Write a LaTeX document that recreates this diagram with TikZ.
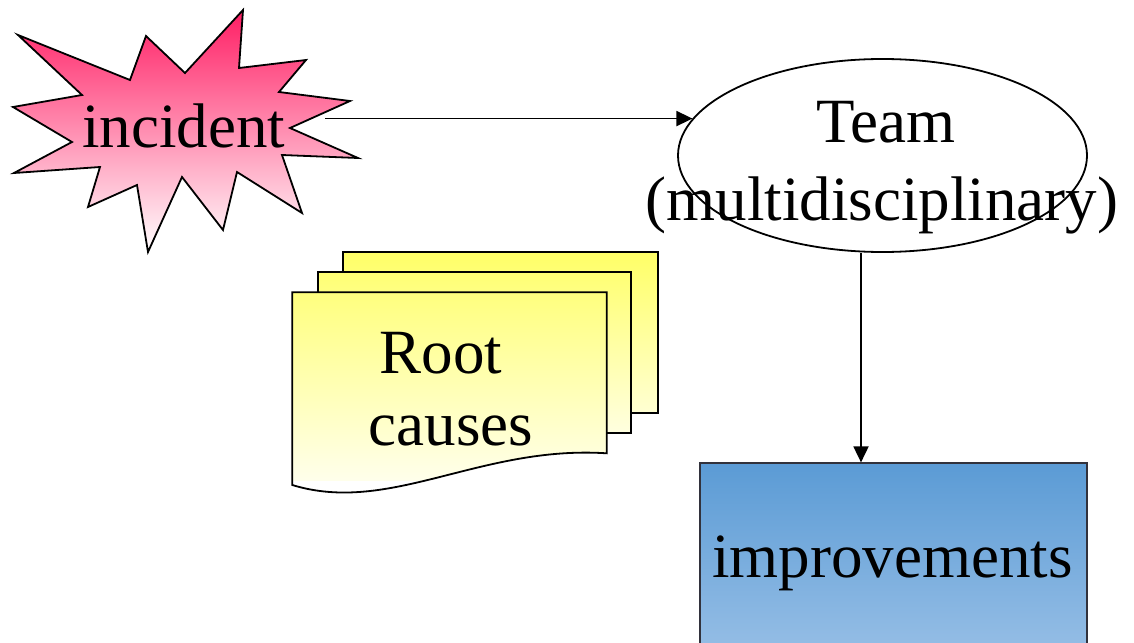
\documentclass[tikz,border=0pt]{standalone}
\usepackage{fontspec}
\setmainfont{Liberation Serif}
\usetikzlibrary{shapes.geometric,arrows.meta}
\definecolor{burst}{RGB}{255,30,100}
\definecolor{noteTop}{RGB}{255,255,102}
\definecolor{noteBot}{RGB}{255,255,255}
\definecolor{boxTop}{RGB}{91,155,213}
\definecolor{boxBot}{RGB}{148,189,229}
\definecolor{boxEdge}{RGB}{50,50,60}
\tikzset{
  outline/.style={draw=black, line width=1.8pt, line join=miter},
  bigtext/.style={font=\fontsize{63}{72}\selectfont, inner sep=0pt, anchor=base},
  flow/.style={line width=1.8pt, -{Triangle[length=16pt,width=15pt]}},
  sheet/.style={outline, path picture={\shade[top color=noteTop, bottom color=noteBot] (noteTL) rectangle (noteBR);}}
}
\begin{document}
\begin{tikzpicture}[x=1pt,y=-1pt]
\useasboundingbox (0,0) rectangle (1134,642);

% explosion shape
\shade[outline, top color=burst, bottom color=white]
  (18,35) -- (130,80) -- (146,36) -- (185,73) -- (243,10) -- (239,68)
  -- (306,60) -- (279,92) -- (350,101) -- (290,128) -- (358,158)
  -- (282,155) -- (302,213) -- (237,172) -- (223,230) -- (182,177)
  -- (148,252) -- (137,185) -- (88,207) -- (100,167) -- (14,173)
  -- (72,142) -- (13,107) -- (82,95) -- cycle;
\node[bigtext] (inc) at (183.5,147) {incident};
\coordinate (incE) at (325,120);

% team ellipse
\node[ellipse, outline, fill=white, minimum width=409pt, minimum height=193pt, inner sep=0pt]
  (team) at (882.5,155.5) {};
\node[bigtext] (teamA) at (886,142) {Team};
\node[bigtext] (teamB) at (882,220.5) {(multidisciplinary)};

% stacked documents
\coordinate (noteTL) at (292,251);
\coordinate (noteBR) at (658,480);
\path[sheet] (342.7,251.7) rectangle (657.7,412.7);
\path[sheet] (318.3,272.3) rectangle (630.7,433.3);
\path[sheet] (292.3,292.3) -- (606.7,292.3) -- (606.7,453.3)
  .. controls (480,445) and (390,515) .. (292.3,485) -- cycle;
\node[bigtext] (rootA) at (441,373) {Root};
\node[bigtext] (rootB) at (451,445) {causes};

% improvements box
\node[draw=boxEdge, line width=1.8pt, top color=boxTop, bottom color=boxBot,
  minimum width=387pt, minimum height=184pt, inner sep=0pt] (imp) at (893.3,555.3) {};
\node[bigtext] (impT) at (892.5,577) {improvements};

% connectors
\coordinate (drop) at (861,0);
\draw[flow] (incE |- team.169) -- (team.169);
\draw[flow] (team.south -| drop) -- (imp.north -| drop);
\end{tikzpicture}
\end{document}
